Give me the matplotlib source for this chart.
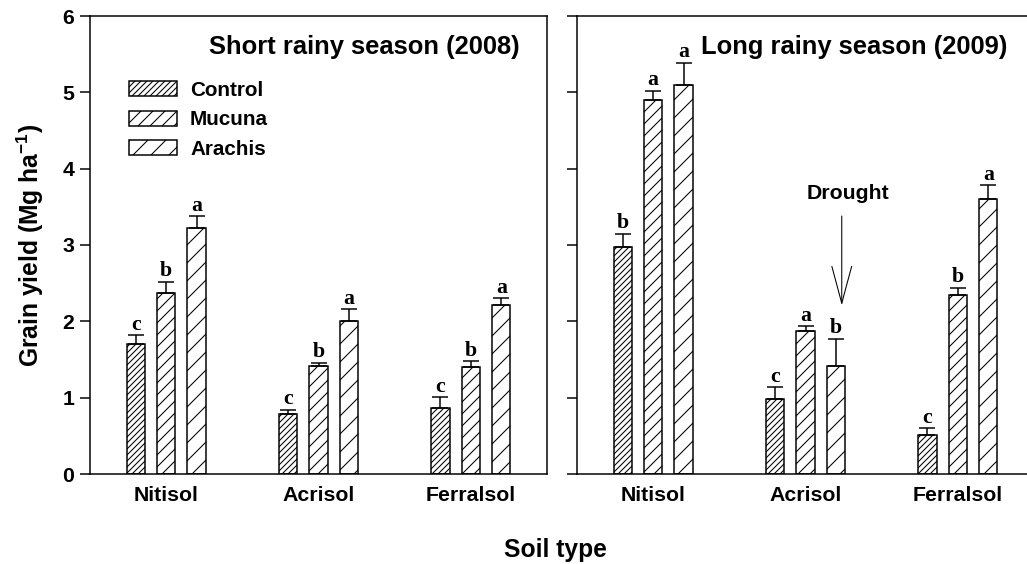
import numpy as np
import matplotlib
matplotlib.use("Agg")
import matplotlib.pyplot as plt

# data
soils = ["Nitisol", "Acrisol", "Ferralsol"]
treatments = ["Control", "Mucuna", "Arachis"]

ctrl_2008 = [1.70, 0.78, 0.87]
muc_2008 = [2.37, 1.41, 1.40]
ara_2008 = [3.22, 2.00, 2.21]
ctrl_2008_err = [0.12, 0.06, 0.14]
muc_2008_err = [0.15, 0.05, 0.08]
ara_2008_err = [0.16, 0.16, 0.09]
letters_2008 = [["c", "c", "c"], ["b", "b", "b"], ["a", "a", "a"]]

ctrl_2009 = [2.97, 0.98, 0.51]
muc_2009 = [4.90, 1.87, 2.35]
ara_2009 = [5.10, 1.41, 3.60]
ctrl_2009_err = [0.18, 0.16, 0.09]
muc_2009_err = [0.12, 0.07, 0.09]
ara_2009_err = [0.29, 0.36, 0.18]
letters_2009 = [["b", "c", "c"], ["a", "a", "b"], ["a", "b", "a"]]

titles = ["Short rainy season (2008)", "Long rainy season (2009)"]

plt.rcParams["font.family"] = "Liberation Sans"
plt.rcParams["font.weight"] = "bold"
plt.rcParams["mathtext.fontset"] = "custom"
plt.rcParams["mathtext.rm"] = "Liberation Sans:bold"
plt.rcParams["mathtext.default"] = "rm"
plt.rcParams["hatch.linewidth"] = 0.35

# dpi 216 so the hatch spacings come out near 6, 12 and 18 px
DPI = 216
fig = plt.figure(figsize=(1027 / DPI, 564 / DPI), dpi=DPI)
W, H = 1027.0, 564.0
ax1 = fig.add_axes([90 / W, 1 - 474 / H, 457 / W, 458 / H])
ax2 = fig.add_axes([577 / W, 1 - 474 / H, 457 / W, 458 / H])

hatches = ["/" * 12, "/" * 6, "/" * 4]
offsets = [-0.2, 0.0, 0.2]
bw = 0.12
x = np.arange(len(soils)) + 0.5

panels = [
    (ax1, [ctrl_2008, muc_2008, ara_2008], [ctrl_2008_err, muc_2008_err, ara_2008_err], letters_2008),
    (ax2, [ctrl_2009, muc_2009, ara_2009], [ctrl_2009_err, muc_2009_err, ara_2009_err], letters_2009),
]

for k, (ax, vals, errs, lets) in enumerate(panels):
    for i in range(3):
        xs = x + offsets[i]
        ax.bar(xs, vals[i], bw, facecolor="white", edgecolor="black", hatch=hatches[i],
               linewidth=0.5, label=treatments[i], zorder=2)
        ax.errorbar(xs, vals[i], yerr=[np.zeros(3), errs[i]], fmt="none", ecolor="black",
                    elinewidth=0.5, capsize=2.7, capthick=0.5, zorder=3)
        for j in range(3):
            ax.annotate(lets[i][j], (xs[j], vals[i][j] + errs[i][j]), xytext=(0, 1.8),
                        textcoords="offset points", ha="center", va="baseline",
                        fontsize=7.3, family="Liberation Serif", weight="bold")
    ax.set_xlim(0, 3)
    ax.set_ylim(0, 6)
    ax.set_xticks(x)
    ax.set_xticklabels(soils, fontsize=7.1, weight="bold")
    ax.set_yticks(range(7))
    ax.tick_params(axis="x", length=0, pad=4)
    ax.tick_params(axis="y", length=3.2, width=0.5, labelsize=7.1, pad=2)
    for s in ax.spines.values():
        s.set_linewidth(0.5)
    ax.text(0.941, 0.932, titles[k], transform=ax.transAxes, ha="right", va="center",
            fontsize=8.5, weight="bold")

ax2.set_yticklabels([])
ax2.spines["right"].set_visible(False)

ax1.legend(loc="upper left", bbox_to_anchor=(39 / 457, 0.858), frameon=False,
           fontsize=6.9, handlelength=2.32, handleheight=0.72, handletextpad=0.63,
           labelspacing=0.5, borderpad=0, borderaxespad=0)

ax2.annotate("", xy=(1.738, 2.21), xytext=(1.738, 3.38),
             arrowprops=dict(arrowstyle="->,head_length=1.23,head_width=0.33", lw=0.35,
                             color="black", shrinkA=0, shrinkB=0))
ax2.text(1.78, 3.68, "Drought", ha="center", va="center", fontsize=7.1, weight="bold")

fig.text(30 / W, 1 - 245 / H, r"Grain yield (Mg ha$^{-1}$)", rotation=90, ha="center",
         va="center", fontsize=8.2, weight="bold")
fig.text(555 / W, 1 - 550 / H, "Soil type", ha="center", va="center", fontsize=8.2, weight="bold")

fig.savefig("out.png", dpi=DPI)
